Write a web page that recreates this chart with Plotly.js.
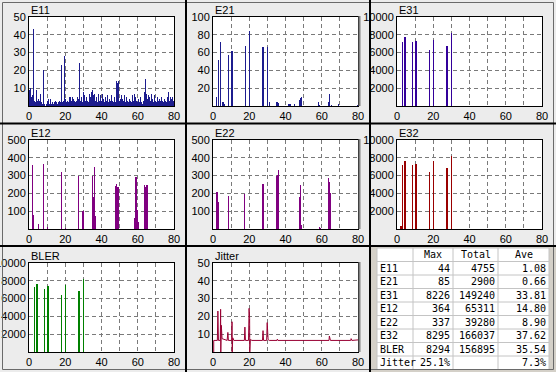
<!DOCTYPE html>
<html><head><meta charset="utf-8">
<script src="https://cdn.plot.ly/plotly-3.0.1.min.js"></script>
<style>html,body{margin:0;padding:0;background:#ECECEC;}#chart{width:556px;height:372px;}</style>
</head><body><div id="chart"></div>
<script>
// ---------------- DATA ----------------
const panelTitles = ['E11','E21','E31','E12','E22','E32','BLER','Jitter'];
const xTickVals = [0,10,20,30,40,50,60,70,80];
const xTickText = ['0','','20','','40','','60','','80'];
const yTicks50 = [10,20,30,40,50];
const yTicks100 = [20,40,60,80,100];
const yTicks500 = [100,200,300,400,500];
const yTicks10000 = [2000,4000,6000,8000,10000];

// E11: sampled every 0.5 from x=0.25
const e11Step = 0.5;
const e11Y = [9,10, 5,6, 28,43, 3,2, 9,3, 4,3, 7,2, 1,2, 20,1, 0,1,
  3,4, 1,4, 1,2, 1,0, 2,3, 2,1, 2,3, 2,23, 2,1, 3,28,
  4,2, 3,2, 5,5, 3,5, 2,4, 3,2, 3,5, 4,24, 3,5, 2,2,
  8,6, 3,5, 3,2, 7,5, 8,3, 9,6, 7,3, 5,2, 7,3, 6,2,
  3,7, 4,2, 5,3, 6,2, 4,3, 2,6, 3,2, 5,2, 14,13, 14,3,
  2,4, 6,4, 3,6, 2,5, 3,2, 4,2, 3,2, 6,3, 7,5, 3,2,
  4,2, 3,5, 2,1, 3,8, 15,7, 4,6, 2,5, 3,7, 4,2, 6,3,
  2,5, 3,4, 2,3, 5,3, 2,4, 3,2, 5,8, 3,2, 5,4, 5,3];

const e21X = [2.0,2.8,4.2,5.5,6.1,8.3,10.5,17.7,19.9,27.6,29.9,31.0,35.0,35.6,36.3,41.5,42.5,45.0,47.6,48.1,48.7,58.2,58.8,63.6,64.4,65.2,69.2,79.5];
const e21Y = [10.5,52,71.5,5,2,57.5,62,67.7,84,66,66.5,4,4.5,4,3,2,2,2,7,9,10,4,1.5,4,14,1,2.5,1];

const e31X = [2.8,4.4,8.3,10.5,17.7,19.9,27.6,29.9];
const e31Y = [7140,7700,7140,7250,6240,7440,6690,8226];

const e12X = [1.9,2.4,5.2,8.0,10.2,17.7,19.9,27.5,29.8,34.8,35.3,36.1,36.6,48.0,48.5,49.1,58.2,58.8,59.3,59.7,60.2,63.6,64.1,64.6,65.1];
const e12Y = [360,79,26,364,13,322,7,298,101,298,182,350,73,242,251,236,64,294,294,107,41,247,238,247,247];

const e22X = [2.2,2.8,8.3,17.5,27.6,35.0,35.6,36.1,47.9,48.5,49.0,58.6,59.2,63.6,64.1,64.7];
const e22Y = [206,154,187,197,251,298,303,330,180,249,22,11,7,288,266,204];

const e32X = [2.2,2.8,4.4,8.3,10.5,17.7,19.9,27.6,29.9];
const e32Y = [375,7190,7680,7190,7340,6440,7640,6890,8250];

const blerX = [2.8,4.4,8.3,10.5,17.7,19.9,27.6,29.9];
const blerY = [7270,7680,7120,7380,6370,7570,6820,8200];

const jitX = [0.4,0.4,2.4,2.7,3.0,4.0,4.2,4.3,4.6,5.0,6.0,7.8,8.2,8.5,10.3,10.5,10.6,10.9,11.5,17.3,17.6,17.9,19.6,19.9,20.2,20.3,20.6,21.5,27.3,27.6,27.9,29.6,29.9,30.4,31.0,35.3,35.5,35.8,64.0,64.2,64.5,64.8,76.0,76.2,76.6,80.0];
const jitY = [0,6.5,6.5,23,6.5,6.5,24,0,15,7.5,7,6.5,11,6.5,6.5,17,0,8,6.5,6.5,14,6.5,6.5,24.5,19,0,7,6.5,6.5,12,6.5,6.5,16.5,7,6.5,6.5,7.2,6.5,6.5,9,7.5,6.5,6.5,7.5,6.5,6.8];

// table
const tblHeader = ['', 'Max', 'Total', 'Ave'];
const tblNames = ['E11','E21','E31','E12','E22','E32','BLER','Jitter'];
const tblMax = ['44','85','8226','364','337','8295','8294','25.1%'];
const tblTotal = ['4755','2900','149240','65311','39280','166037','156895',''];
const tblAve = ['1.08','0.66','33.81','14.80','8.90','37.62','35.54','7.3%'];

// ---------------- LAYOUT ----------------
const W = 556, H = 372;
const fx = v => v / W;
const fy = v => 1 - v / H;
const cols = [[29,174],[213,358],[397,542]];
const rows = [[17,106],[140,229],[263,352]];
const tickFont = {family:'"Liberation Sans", Arial, sans-serif', size:11, color:'#000'};
const monoFont = {family:'"DejaVu Sans Mono", monospace', size:10, color:'#000'};

const e11X = e11Y.map((v,i) => i*e11Step + e11Step/2);

const series = [
  {x:e11X, y:e11Y, color:'#1C1C8E', w:0.56, yt:yTicks50, yr:50},
  {x:e21X, y:e21Y, color:'#1C1C8E', w:0.6, yt:yTicks100, yr:100},
  {x:e31X, y:e31Y, color:'#33009A', w:0.6, yt:yTicks10000, yr:10000},
  {x:e12X, y:e12Y, color:'#800080', w:0.6, yt:yTicks500, yr:500},
  {x:e22X, y:e22Y, color:'#800080', w:0.6, yt:yTicks500, yr:500},
  {x:e32X, y:e32Y, color:'#990000', w:0.6, yt:yTicks10000, yr:10000},
  {x:blerX, y:blerY, color:'#008000', w:0.6, yt:yTicks10000, yr:10000},
  {x:jitX, y:jitY, color:'#990033', line:true, yt:yTicks50, yr:50}
];

const data = [];
const layout = {
  width:W, height:H, margin:{l:0,r:0,t:0,b:0},
  paper_bgcolor:'#ECECEC', plot_bgcolor:'#FFFFFF',
  showlegend:false, bargap:0,
  shapes:[], annotations:[]
};

series.forEach((s,i) => {
  const r = Math.floor(i/3), c = i%3;
  const n = i+1;
  const xa = 'x'+(n===1?'':n), ya = 'y'+(n===1?'':n);
  if (s.line) {
    data.push({type:'scatter', mode:'lines', x:s.x, y:s.y, xaxis:xa, yaxis:ya,
      line:{color:s.color, width:1}, hoverinfo:'skip'});
  } else {
    data.push({type:'bar', x:s.x, y:s.y, width:s.w, xaxis:xa, yaxis:ya,
      marker:{color:s.color, line:{width:0}}, hoverinfo:'skip'});
  }
  const common = {showline:true, mirror:true, linecolor:'#000', linewidth:1,
    showgrid:true, gridcolor:'#7A7A7A', gridwidth:1, griddash:'4px,3px',
    zeroline:false, ticks:'', tickfont:tickFont, fixedrange:true};
  layout['xaxis'+(n===1?'':n)] = Object.assign({}, common, {
    domain:[fx(cols[c][0]), fx(cols[c][1])], range:[0,80],
    tickmode:'array', tickvals:xTickVals, ticktext:xTickText, anchor:ya});
  layout['yaxis'+(n===1?'':n)] = Object.assign({}, common, {
    domain:[fy(rows[r][1]), fy(rows[r][0])], range:[0,s.yr],
    tickmode:'array', tickvals:s.yt, ticktext:s.yt.map(String), anchor:xa});
  layout.annotations.push({xref:'paper', yref:'paper', x:fx(cols[c][0]+0), y:fy(rows[r][0]-15),
    xanchor:'left', yanchor:'top', showarrow:false, text:panelTitles[i],
    font:{family:'"Liberation Sans", Arial, sans-serif', size:11, color:'#000'}});
  if (c === 1) {
    layout.shapes.push({type:'line', xref:'paper', yref:'paper', layer:'above',
      x0:fx(cols[c][1]+1.5), x1:fx(cols[c][1]+1.5), y0:fy(rows[r][1]), y1:fy(rows[r][0]-1),
      line:{color:'#808080', width:2}});
  }
});

// table panel background
layout.shapes.push({type:'rect', xref:'paper', yref:'paper', layer:'below',
  x0:fx(371), x1:1, y0:0, y1:fy(247), fillcolor:'#D4D0C8', line:{width:0}});

// table drawn from arrays
const tCols = [377,413,453,498,549];
const tTop = 248, tRowH = 13.5;
const tRows = [tblHeader].concat(tblNames.map((nm,i) => [nm, tblMax[i], tblTotal[i], tblAve[i]]));
const tBottom = tTop + tRowH*tRows.length;
layout.shapes.push({type:'rect', xref:'paper', yref:'paper', layer:'above',
  x0:fx(tCols[0]), x1:fx(tCols[4]), y0:fy(tBottom), y1:fy(tTop), fillcolor:'#FFFFFF', line:{width:0}});
for (let k=0; k<=tRows.length; k++) {
  const yv = tTop + tRowH*k;
  layout.shapes.push({type:'line', xref:'paper', yref:'paper', layer:'above',
    x0:fx(tCols[0]), x1:fx(tCols[4]), y0:fy(yv), y1:fy(yv), line:{color:'#C4C4C4', width:1}});
}
tCols.forEach(xv => layout.shapes.push({type:'line', xref:'paper', yref:'paper', layer:'above',
  x0:fx(xv), x1:fx(xv), y0:fy(tBottom), y1:fy(tTop), line:{color:'#C4C4C4', width:1}}));
tRows.forEach((row,ri) => {
  const yc = tTop + tRowH*(ri+0.5);
  row.forEach((txt,ci) => {
    if (!txt) return;
    let x, anchor;
    if (ri === 0) { x = (tCols[ci]+tCols[ci+1])/2; anchor = 'center'; }
    else if (ci === 0) { x = tCols[0]+2; anchor = 'left'; }
    else { x = tCols[ci+1]-2; anchor = 'right'; }
    layout.annotations.push({xref:'paper', yref:'paper', x:fx(x), y:fy(yc),
      xanchor:anchor, yanchor:'middle', showarrow:false, text:txt, font:monoFont,
      borderpad:0});
  });
});

// outer frame
layout.shapes.push({type:'rect', xref:'paper', yref:'paper', layer:'above',
  x0:fx(2.5), x1:fx(553.5), y0:fy(369.5), y1:fy(2.5), line:{color:'#6A6A6A', width:1}});
// black dividers
[186,370].forEach(xv => layout.shapes.push({type:'line', xref:'paper', yref:'paper', layer:'above',
  x0:fx(xv), x1:fx(xv), y0:0, y1:1, line:{color:'#000', width:2}}));
[123.5,246].forEach(yv => layout.shapes.push({type:'line', xref:'paper', yref:'paper', layer:'above',
  x0:0, x1:1, y0:fy(yv), y1:fy(yv), line:{color:'#000', width:2}}));

Plotly.newPlot('chart', data, layout, {staticPlot:true, displayModeBar:false});
</script>
</body></html>
